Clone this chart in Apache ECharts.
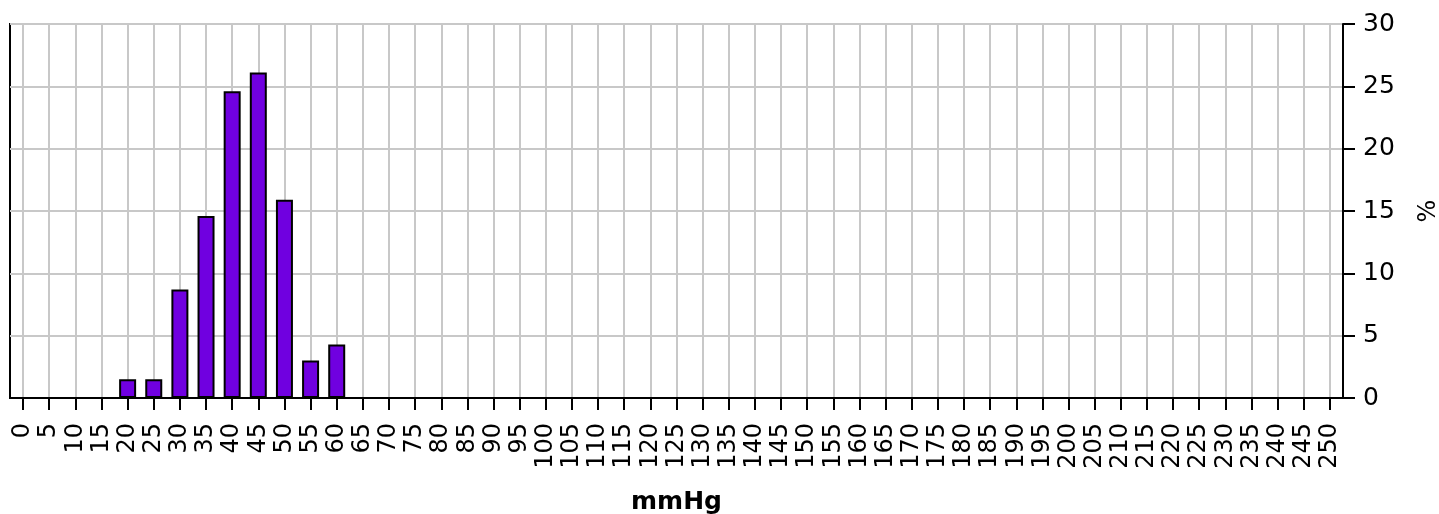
<!DOCTYPE html>
<html>
<head>
<meta charset="utf-8">
<script src="https://cdn.jsdelivr.net/npm/echarts@6/dist/echarts.min.js"></script>
<style>
html,body{margin:0;padding:0;background:#fff;}
#chart{width:1439px;height:514px;}
</style>
</head>
<body>
<div id="chart"></div>
<script>
var categories = ['0','5','10','15','20','25','30','35','40','45','50','55','60','65','70','75','80','85','90','95','100','105','110','115','120','125','130','135','140','145','150','155','160','165','170','175','180','185','190','195','200','205','210','215','220','225','230','235','240','245','250'];
var percentValues = [null,null,null,null,1.5,1.5,8.7,14.6,24.6,26.1,15.9,3.0,4.3,null,null,null,null,null,null,null,null,null,null,null,null,null,null,null,null,null,null,null,null,null,null,null,null,null,null,null,null,null,null,null,null,null,null,null,null,null,null];
var xAxisTitle = 'mmHg';
var yAxisTitle = '%';

var chart = echarts.init(document.getElementById('chart'));
var font = 'DejaVu Sans';
chart.setOption({
  animation: false,
  backgroundColor: '#ffffff',
  grid: {
    left: 10, right: 96, top: 24, bottom: 116,
    containLabel: false,
    outerBoundsMode: 'none',
    show: true, borderColor: '#000', borderWidth: 2, backgroundColor: 'transparent'
  },
  xAxis: {
    type: 'category',
    data: categories,
    boundaryGap: true,
    name: xAxisTitle,
    nameLocation: 'middle',
    nameGap: 92,
    nameTextStyle: {fontFamily: font, fontWeight: 'bold', fontSize: 25, color: '#000'},
    axisLine: {show: true, lineStyle: {color: '#000', width: 2}},
    axisTick: {show: true, alignWithLabel: true, length: 12, lineStyle: {color: '#000', width: 2}},
    splitLine: {show: true, alignWithLabel: true, lineStyle: {color: '#c8c8c8', width: 2}},
    axisLabel: {interval: 0, rotate: 90, margin: 25, fontFamily: font, fontSize: 24, color: '#000'}
  },
  yAxis: {
    type: 'value',
    position: 'right',
    min: 0, max: 30, interval: 5,
    name: yAxisTitle,
    nameLocation: 'middle',
    nameRotate: 90,
    nameGap: 74,
    nameTextStyle: {fontFamily: font, fontSize: 24, color: '#000'},
    axisLine: {show: true, lineStyle: {color: '#000', width: 2}},
    axisTick: {show: true, inside: false, length: 12, lineStyle: {color: '#000', width: 2}},
    splitLine: {show: true, lineStyle: {color: '#c8c8c8', width: 2}},
    axisLabel: {margin: 20, fontFamily: font, fontSize: 25, color: '#000'}
  },
  series: [{
    type: 'bar',
    data: percentValues,
    barWidth: 17,
    itemStyle: {color: '#7000e0', borderColor: '#000', borderWidth: 2}
  }]
});
</script>
</body>
</html>
